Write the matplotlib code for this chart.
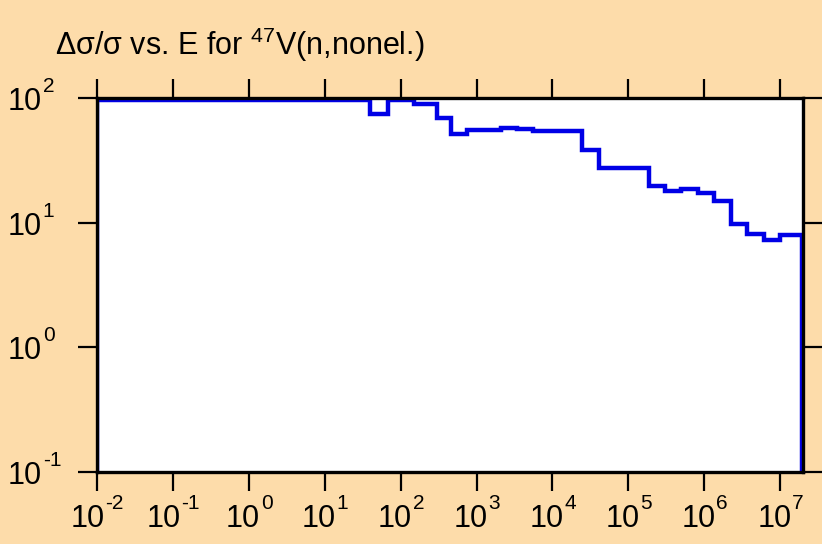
import matplotlib
matplotlib.use("Agg")
import matplotlib.pyplot as plt
from matplotlib.transforms import blended_transform_factory, offset_copy

# relative uncertainty of the nonelastic cross section, step per energy group
edges = [1e-2, 39, 68, 148, 304, 455, 755, 2070, 3440, 5620, 24500, 40600,
         185000, 307000, 494000, 817000, 1.36e6, 2.24e6, 3.65e6, 6.16e6,
         1.0e7, 1.95e7]
rel_unc = [97, 75, 97, 90, 69, 51, 55.6, 57.3, 56.2, 54.5, 38.3, 27.2,
           19.6, 18.1, 18.7, 17.4, 14.9, 9.8, 8.1, 7.2, 7.9]

x_decades = list(range(-2, 8))
y_decades = list(range(-1, 3))

plt.rcParams["font.family"] = ["Liberation Sans", "DejaVu Sans"]
plt.rcParams["mathtext.fontset"] = "custom"
plt.rcParams["mathtext.rm"] = "Liberation Sans"
plt.rcParams["mathtext.default"] = "regular"

BASE_FS = 22
SUP_FS = 15
RAISE = 13  # superscript lift, points
ADV = {"-": 0.333}  # advance widths in em, digits are 0.556


def width_pt(s, fs):
    return sum(ADV.get(c, 0.556) for c in s) * fs


def power_label(ax, x, y, trans, exp, dx, dy, centered):
    e = str(exp)
    base_w = width_pt("10", BASE_FS)
    x0 = dx - (base_w + width_pt(e, SUP_FS)) / 2 if centered else dx
    t1 = offset_copy(trans, fig=ax.figure, x=x0, y=dy, units="points")
    t2 = offset_copy(trans, fig=ax.figure, x=x0 + base_w + 0.5, y=dy + RAISE,
                     units="points")
    ax.text(x, y, "10", transform=t1, ha="left", va="baseline",
            fontsize=BASE_FS, clip_on=False)
    ax.text(x, y, e, transform=t2, ha="left", va="baseline",
            fontsize=SUP_FS, clip_on=False)


bg = "#fddcaa"
fig = plt.figure(figsize=(8.22, 5.44), dpi=100, facecolor=bg)
ax = fig.add_axes([97 / 822, 1 - 472 / 544, 706 / 822, 374 / 544])
ax.set_facecolor("white")

ax.stairs(rel_unc, edges, baseline=1e-3, color="#0000e6", linewidth=3.2)

ax.set_xscale("log")
ax.set_yscale("log")
ax.set_xlim(1e-2, 2e7)
ax.set_ylim(0.1, 100)
ax.set_xticks([10.0 ** d for d in x_decades])
ax.set_yticks([10.0 ** d for d in y_decades])
ax.minorticks_off()
ax.tick_params(which="both", direction="out", length=13.5, width=1.6,
               top=True, right=True, labelbottom=False, labelleft=False)
for s in ax.spines.values():
    s.set_linewidth(2.4)

tx = blended_transform_factory(ax.transData, ax.transAxes)
for d in x_decades:
    power_label(ax, 10.0 ** d, 0, tx, d, 0, -39.5, True)

ty = blended_transform_factory(ax.transAxes, ax.transData)
for d in y_decades:
    power_label(ax, -0.126, 10.0 ** d, ty, d, 0, -8.6, False)

fig.text(55 / 822, 1 - 55 / 544, "\u0394\u03c3/\u03c3 vs. E for $^{47}$V(n,nonel.)",
         fontsize=22, ha="left", va="baseline")

fig.savefig("out.png", dpi=100, facecolor=bg)
